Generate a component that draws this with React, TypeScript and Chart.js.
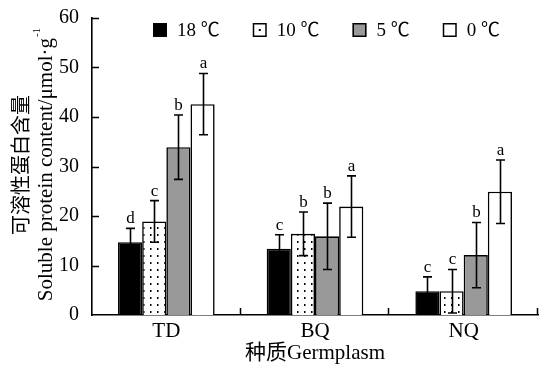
import React, { useEffect, useRef } from 'react';
import { Chart, registerables } from 'chart.js';

Chart.register(...registerables);

const categories = ['TD', 'BQ', 'NQ'];
const seriesLabels = ['18 ℃', '10 ℃', '5 ℃', '0 ℃'];
const v18 = [14.7, 13.4, 4.8];
const v10 = [18.9, 16.4, 4.8];
const v5 = [33.9, 15.9, 12.1];
const v0 = [42.6, 21.9, 24.9];
const e18 = [2.8, 2.8, 2.9];
const e10 = [4.2, 4.4, 4.4];
const e5 = [6.5, 6.7, 6.6];
const e0 = [6.2, 6.2, 6.4];
const l18 = ['d', 'c', 'c'];
const l10 = ['c', 'b', 'c'];
const l5 = ['b', 'b', 'b'];
const l0 = ['a', 'a', 'a'];
const yTicks = [0, 10, 20, 30, 40, 50, 60];
const yTitleCn = '可溶性蛋白含量';
const yTitleEn = 'Soluble protein content/μmol·g';
const yTitleSup = '-1';
const xTitle = '种质Germplasm';

const SERIF = '"Liberation Serif", "Times New Roman", "Noto Sans CJK SC", serif';
const GRAY = '#999999';

function makeDots(): CanvasPattern | string {
  const c = document.createElement('canvas');
  c.width = 7;
  c.height = 7;
  const g = c.getContext('2d');
  if (!g) return '#fff';
  g.fillStyle = '#fff';
  g.fillRect(0, 0, 7, 7);
  g.fillStyle = '#000';
  g.fillRect(3, 3, 1.5, 2);
  const ctx = document.createElement('canvas').getContext('2d');
  const p = ctx ? ctx.createPattern(c, 'repeat') : null;
  return p || '#fff';
}

const errs = [e18, e10, e5, e0];
const letters = [l18, l10, l5, l0];

const decor = {
  id: 'decor',
  afterDatasetsDraw(chart: any) {
    const { ctx, scales } = chart;
    const y = scales.y;
    ctx.save();
    chart.data.datasets.forEach((ds: any, di: number) => {
      const meta = chart.getDatasetMeta(di);
      meta.data.forEach((el: any, i: number) => {
        const v = ds.data[i];
        const e = errs[di][i];
        const x = Math.round(el.x) + 0.5;
        const top = y.getPixelForValue(v + e);
        const bot = y.getPixelForValue(Math.max(0, v - e));
        ctx.strokeStyle = '#000';
        ctx.lineWidth = 1.6;
        ctx.beginPath();
        ctx.moveTo(x, top);
        ctx.lineTo(x, bot);
        ctx.moveTo(x - 4.5, top);
        ctx.lineTo(x + 4.5, top);
        ctx.moveTo(x - 4.5, bot);
        ctx.lineTo(x + 4.5, bot);
        ctx.stroke();
        ctx.fillStyle = '#000';
        ctx.font = '17px ' + SERIF;
        ctx.textAlign = 'center';
        ctx.textBaseline = 'alphabetic';
        ctx.fillText(letters[di][i], x, top - 5);
      });
    });
    ctx.restore();
  },
  afterDraw(chart: any) {
    const { ctx, chartArea, scales } = chart;
    const y = scales.y;
    const { left, right, bottom } = chartArea;
    ctx.save();
    ctx.strokeStyle = '#000';
    ctx.lineWidth = 1.5;
    ctx.beginPath();
    yTicks.forEach((t) => {
      if (t === 0) return;
      const py = Math.round(y.getPixelForValue(t)) + 0.5;
      ctx.moveTo(left, py);
      ctx.lineTo(left + 7, py);
    });
    const w = (right - left) / categories.length;
    for (let i = 1; i <= categories.length; i++) {
      const px = Math.round(left + i * w) - 0.5;
      ctx.moveTo(px, bottom);
      ctx.lineTo(px, bottom - 7);
    }
    ctx.stroke();

    // legend
    const fills = chart.data.datasets.map((d: any) => d.backgroundColor);
    let lx = left + 61;
    const ly = 23;
    ctx.font = '19px ' + SERIF;
    ctx.textAlign = 'left';
    ctx.textBaseline = 'middle';
    seriesLabels.forEach((lab, i) => {
      ctx.fillStyle = i === 1 ? '#fff' : fills[i];
      ctx.fillRect(lx, ly, 14, 14);
      ctx.lineWidth = 1.5;
      ctx.strokeStyle = '#000';
      ctx.strokeRect(lx + 0.75, ly + 0.75, 12.5, 12.5);
      if (i === 1) {
        ctx.fillStyle = '#000';
        ctx.fillRect(lx + 6, ly + 6, 2, 2);
      }
      ctx.fillStyle = '#000';
      ctx.fillText(lab, lx + 24, ly + 8);
      lx += 24 + ctx.measureText(lab).width + 33;
    });

    // y title
    ctx.save();
    const cy = 165;
    ctx.translate(20, cy);
    ctx.rotate(-Math.PI / 2);
    ctx.textAlign = 'center';
    ctx.textBaseline = 'middle';
    ctx.font = '20px "Noto Sans CJK SC", sans-serif';
    ctx.fillText(yTitleCn, 0, 0);
    ctx.restore();

    ctx.save();
    ctx.translate(46, cy);
    ctx.rotate(-Math.PI / 2);
    ctx.font = '21px ' + SERIF;
    const wMain = ctx.measureText(yTitleEn).width;
    ctx.font = '11px ' + SERIF;
    const wSup = ctx.measureText(yTitleSup).width;
    const start = -(wMain + wSup) / 2;
    ctx.textAlign = 'left';
    ctx.textBaseline = 'middle';
    ctx.font = '21px ' + SERIF;
    ctx.fillText(yTitleEn, start, 0);
    ctx.font = '11px ' + SERIF;
    ctx.fillText(yTitleSup, start + wMain + 1, -9);
    ctx.restore();

    // x title
    ctx.font = '21px ' + SERIF;
    ctx.textAlign = 'center';
    ctx.textBaseline = 'middle';
    ctx.fillStyle = '#000';
    ctx.fillText(xTitle, (left + right) / 2, 353);
    ctx.restore();
  },
};

export default function App() {
  const ref = useRef<HTMLCanvasElement>(null);
  useEffect(() => {
    if (!ref.current) return;
    const dots = makeDots();
    const chart = new Chart(ref.current, {
      type: 'bar',
      data: {
        labels: categories,
        datasets: [
          { label: seriesLabels[0], data: v18, backgroundColor: '#000' },
          { label: seriesLabels[1], data: v10, backgroundColor: dots as any },
          { label: seriesLabels[2], data: v5, backgroundColor: GRAY },
          { label: seriesLabels[3], data: v0, backgroundColor: '#fff' },
        ].map((d) => ({
          ...d,
          borderColor: '#000',
          borderWidth: 1.6,
          categoryPercentage: 0.65,
          barPercentage: 1,
        })),
      },
      options: {
        responsive: false,
        animation: false,
        devicePixelRatio: 1,
        layout: { padding: { top: 18, right: 2, left: 0, bottom: 0 } },
        plugins: { legend: { display: false }, tooltip: { enabled: false } },
        scales: {
          x: {
            grid: { display: false },
            border: { display: true, color: '#000', width: 1.6 },
            ticks: { color: '#000', font: { family: SERIF, size: 21 }, padding: -4 },
            afterFit: (s: any) => {
              s.height = 50;
            },
          },
          y: {
            min: 0,
            max: 60,
            grid: { display: false },
            border: { display: true, color: '#000', width: 1.6 },
            ticks: { stepSize: 10, color: '#000', font: { family: SERIF, size: 20 }, padding: 5 },
            afterFit: (s: any) => {
              s.width = 92;
            },
          },
        },
      },
      plugins: [decor],
    });
    return () => chart.destroy();
  }, []);
  return (
    <div style={{ position: 'absolute', left: 0, top: 0, width: 540, height: 365, background: '#fff' }}>
      <canvas ref={ref} width={540} height={365} />
    </div>
  );
}
